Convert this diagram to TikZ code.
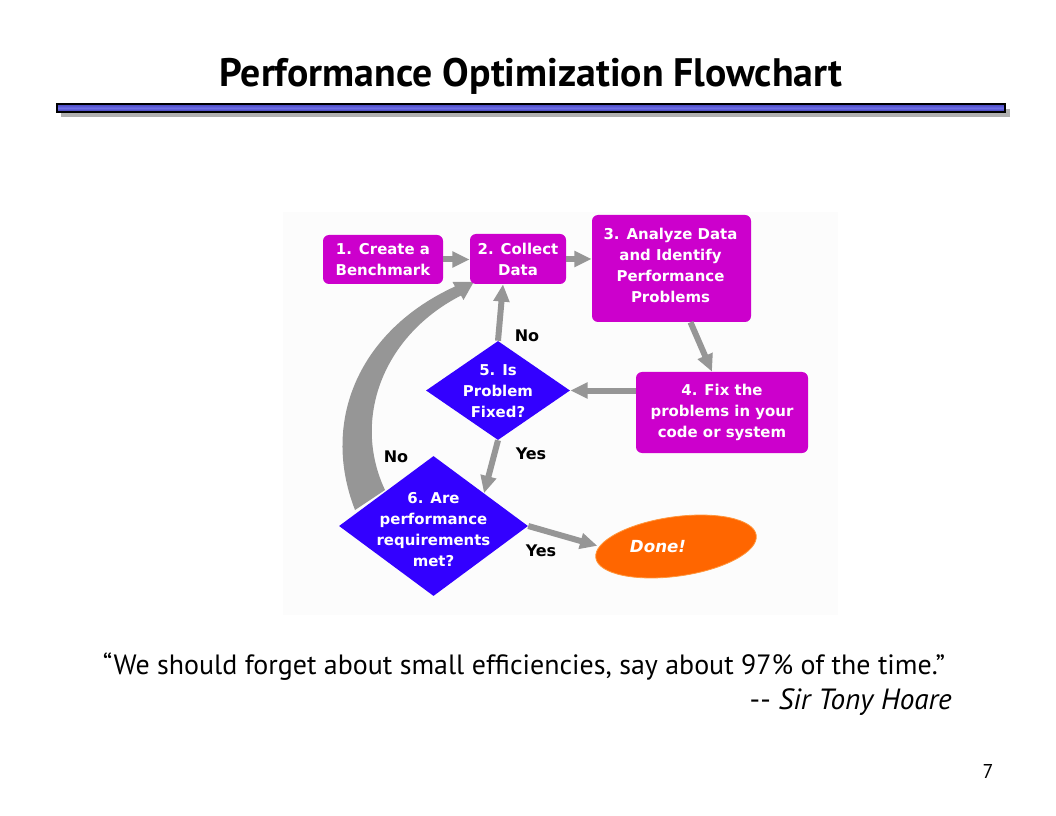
\documentclass[tikz,border=0pt]{standalone}
\usepackage{graphicx}
\usepackage{fontspec}
\setmainfont{PT Sans}
\newfontfamily\fcfont{DejaVu Sans}
\usetikzlibrary{shapes.geometric,arrows.meta,calc}
\definecolor{mag}{RGB}{204,0,204}
\definecolor{dblue}{RGB}{51,0,255}
\definecolor{orng}{RGB}{255,102,0}
\definecolor{agray}{RGB}{150,150,150}
\definecolor{shgray}{RGB}{176,176,176}
\definecolor{bgpanel}{RGB}{252,252,252}
\begin{document}
\begin{tikzpicture}[x=0.75pt,y=-0.75pt,
  box/.style={fill=mag, rounded corners=4.5pt, inner sep=0pt, text=white, align=center,
    font=\fcfont\bfseries\fontsize{11.2}{15.75}\selectfont},
  dia/.style={diamond, fill=dblue, inner sep=0pt},
  ftxt/.style={text=white, align=center, inner sep=0pt,
    font=\fcfont\bfseries\fontsize{11.2}{15.75}\selectfont},
  lbl/.style={font=\fcfont\bfseries\fontsize{12}{13}\selectfont, inner sep=0pt},
  arr/.style={draw=agray, line width=4.5pt, -{Triangle[length=13pt,width=11.5pt]}},
]
\useasboundingbox (0,0) rectangle (1056,816);
\fill[white] (0,0) rectangle (1056,816);

% title and rule
\node[inner sep=0pt] (title) at (531,76)
  {\resizebox{467.25pt}{!}{\bfseries\fontsize{24}{28}\selectfont Performance Optimization Flowchart}};
\fill[shgray] (61,109) rectangle (1010,117);
\shade[top color={rgb,255:red,70;green,70;blue,190}, bottom color={rgb,255:red,55;green,55;blue,170},
  middle color={rgb,255:red,110;green,110;blue,230}] (57,104) rectangle (1005,112);
\draw[black, line width=1pt] (57,104) rectangle (1005,112);

% panel background
\fill[bgpanel] (283,212) rectangle (838,615);

% curved "No" arrow from 6 back to 2
\fill[agray] (355,510) .. controls (320,420) and (360,330) .. (455,286.5)
  -- (452.5,282) -- (473.7,282) -- (463.5,300) -- (461,295.5)
  .. controls (382,336) and (352,420) .. (385,490) -- cycle;

% nodes
\node[box, minimum width=90pt, minimum height=36.75pt] (b1) at (383,259.5) {1. Create a\\Benchmark};
\node[box, minimum width=72pt, minimum height=37.5pt] (b2) at (518,259) {2. Collect\\Data};
\node[box, minimum width=119.25pt, minimum height=80.25pt] (b3) at (671.5,268.5) {};
\node[ftxt] at ($(b3)+(-1,-3.5)$) {3. Analyze Data\\and Identify\\Performance\\Problems};
\node[box, minimum width=129pt, minimum height=60.75pt] (b4) at (722,412.5) {4. Fix the\\problems in your\\code or system};
\node[dia, minimum width=108pt, minimum height=74.25pt] (d5) at (498,390.5) {};
\node[ftxt] at ($(d5)+(0,0.5)$) {5. Is\\Problem\\Fixed?};
\node[dia, minimum width=141.75pt, minimum height=105pt] (d6) at (433.5,526) {};
\node[ftxt] at ($(d6)+(0,4)$) {6. Are\\performance\\requirements\\met?};
\node[ellipse, fill=orng, draw={rgb,255:red,255;green,150;blue,60}, line width=0.6pt,
  minimum width=121.5pt, minimum height=44.5pt, inner sep=0pt, rotate=8] (done) at (676,546.5) {};
\node[text=white, inner sep=0pt, font=\fcfont\bfseries\itshape\fontsize{12.5}{14}\selectfont]
  at ($(done)+(-18,0)$) {Done!};

% connectors
\draw[arr] (b1.east) -- (b1.east -| b2.west);
\draw[arr, line width=4pt] (b2.east) -- (b2.east -| b3.west);
\draw[arr] ($(b3.south)+(19,0)$) -- ($(b4.north)+(-10,0)$);
\draw[arr] (b4.west |- d5.east) -- (d5.east);
\draw[arr] (d5.north) -- ($(b2.south)+(-15,0)$);
\draw[arr] (d5.south) -- (d6.33);
\draw[arr] (d6.east) -- ($(done.west)+(2,-12)$);

% labels
\node[lbl] (l1) at (527,336) {No};
\node[lbl] (l2) at (531,454) {Yes};
\node[lbl] (l3) at (396,457) {No};
\node[lbl] (l4) at (541,551) {Yes};

% quote
\node[inner sep=0pt] (quote) at (524,667)
  {\resizebox{631.5pt}{!}{\fontsize{18}{22}\selectfont “We should forget about small efficiencies, say about 97\% of the time.”}};
\node[inner sep=0pt, anchor=east] (author) at (952,702)
  {\resizebox{151.5pt}{!}{\fontsize{18}{22}\selectfont -{}- \textit{Sir Tony Hoare}}};
\node[inner sep=0pt] (page) at (988,771) {\fontsize{15}{18}\selectfont 7};
\end{tikzpicture}
\end{document}
